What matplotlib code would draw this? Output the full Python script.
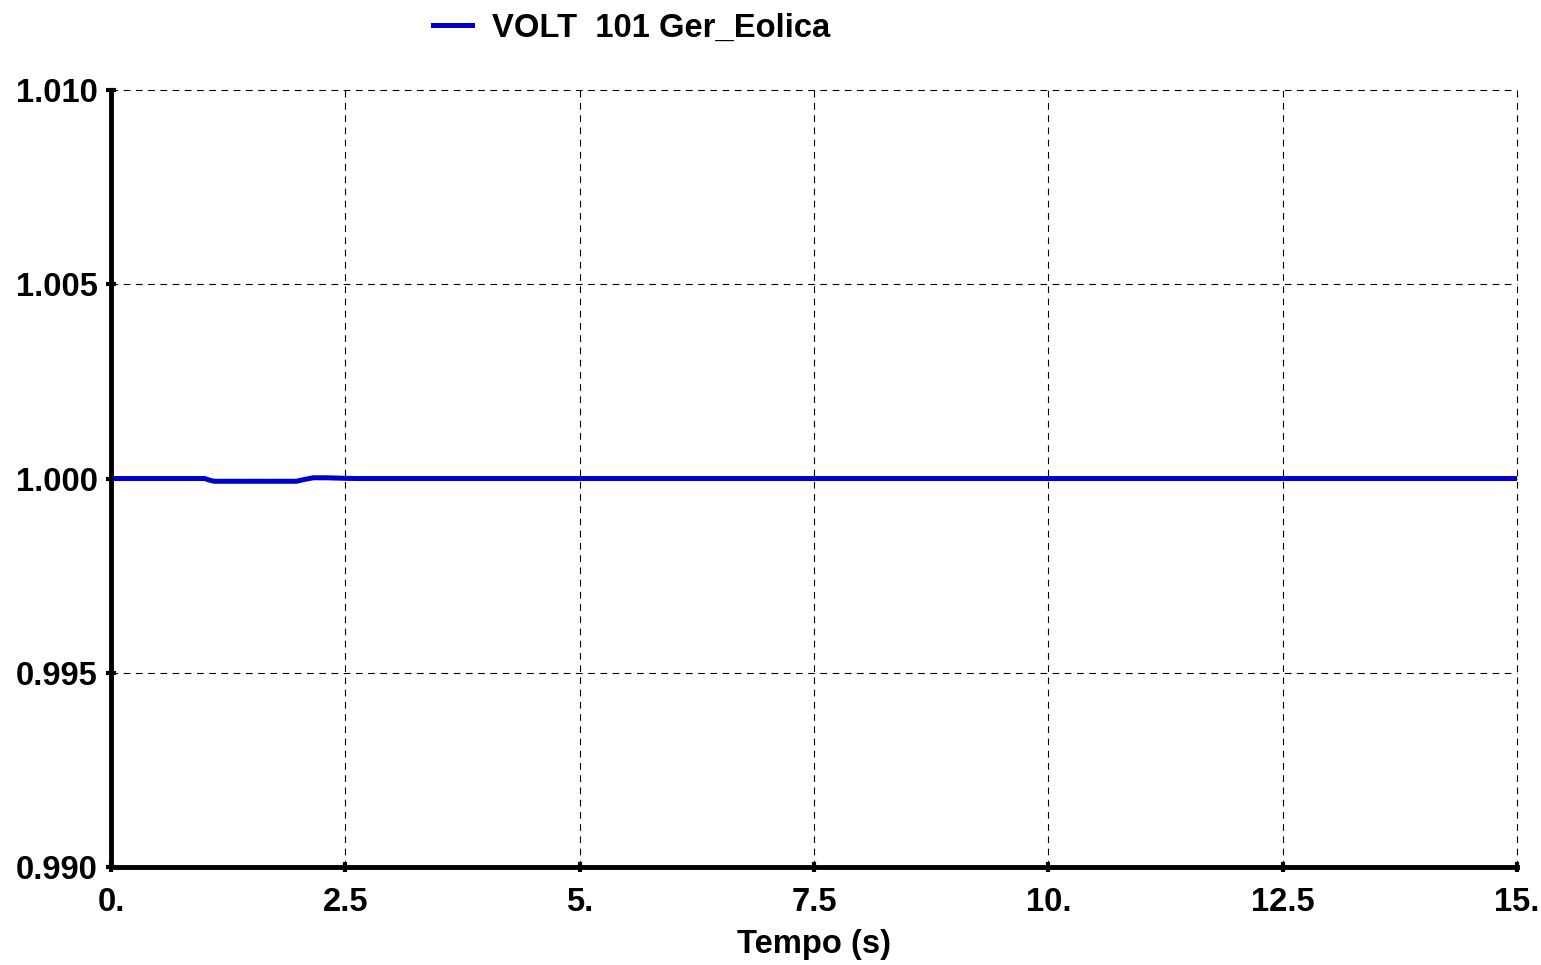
import matplotlib
matplotlib.use("Agg")
import matplotlib.pyplot as plt

# time (s) and terminal voltage (pu)
tempo = [0.0, 1.0, 1.05, 1.1, 1.5, 1.98, 2.05, 2.16, 2.3, 2.44, 2.55, 2.65, 5.0, 10.0, 15.0]
volt = [1.0, 1.0, 0.99996, 0.99993, 0.99993, 0.99993, 0.99997, 1.00002, 1.00002, 1.00001, 1.000003, 1.0, 1.0, 1.0, 1.0]

x_ticks = [0.0, 2.5, 5.0, 7.5, 10.0, 12.5, 15.0]
x_labels = ["0.", "2.5", "5.", "7.5", "10.", "12.5", "15."]
y_ticks = [0.990, 0.995, 1.000, 1.005, 1.010]
y_labels = ["0.990", "0.995", "1.000", "1.005", "1.010"]

plt.rcParams["font.family"] = ["Liberation Sans", "DejaVu Sans"]
plt.rcParams["font.weight"] = "bold"
fs = 23.6

fig = plt.figure(figsize=(15.41, 9.65), dpi=100)
ax = fig.add_axes([0.072, 0.1015, 0.9124, 0.8052])

line, = ax.plot(tempo, volt, color="#0000cc", lw=3.6, label="VOLT  101 Ger_Eolica")

ax.set_xlim(0, 15)
ax.set_ylim(0.990, 1.010)
ax.set_xticks(x_ticks)
ax.set_xticklabels(x_labels)
ax.set_yticks(y_ticks)
ax.set_yticklabels(y_labels)
ax.tick_params(labelsize=fs, direction="inout", length=7, width=3)
ax.tick_params(axis="x", pad=11)
ax.tick_params(axis="y", pad=6)

for s in ["top", "right"]:
    ax.spines[s].set_visible(False)
for s in ["left", "bottom"]:
    ax.spines[s].set_linewidth(3.5)

ax.grid(True, color="black", linestyle=(0, (6, 5)), linewidth=0.8)
for gl in ax.get_xgridlines() + ax.get_ygridlines():
    gl.set_clip_on(False)
ax.set_axisbelow(True)

ax.set_xlabel("Tempo (s)", fontsize=fs, fontweight="bold", labelpad=8)

fig.legend(handles=[line], loc="center left", bbox_to_anchor=(0.281, 0.971),
           frameon=False, fontsize=fs, handlelength=1.2, handletextpad=0.61,
           borderpad=0, borderaxespad=0)

fig.savefig("out.png", dpi=100)
